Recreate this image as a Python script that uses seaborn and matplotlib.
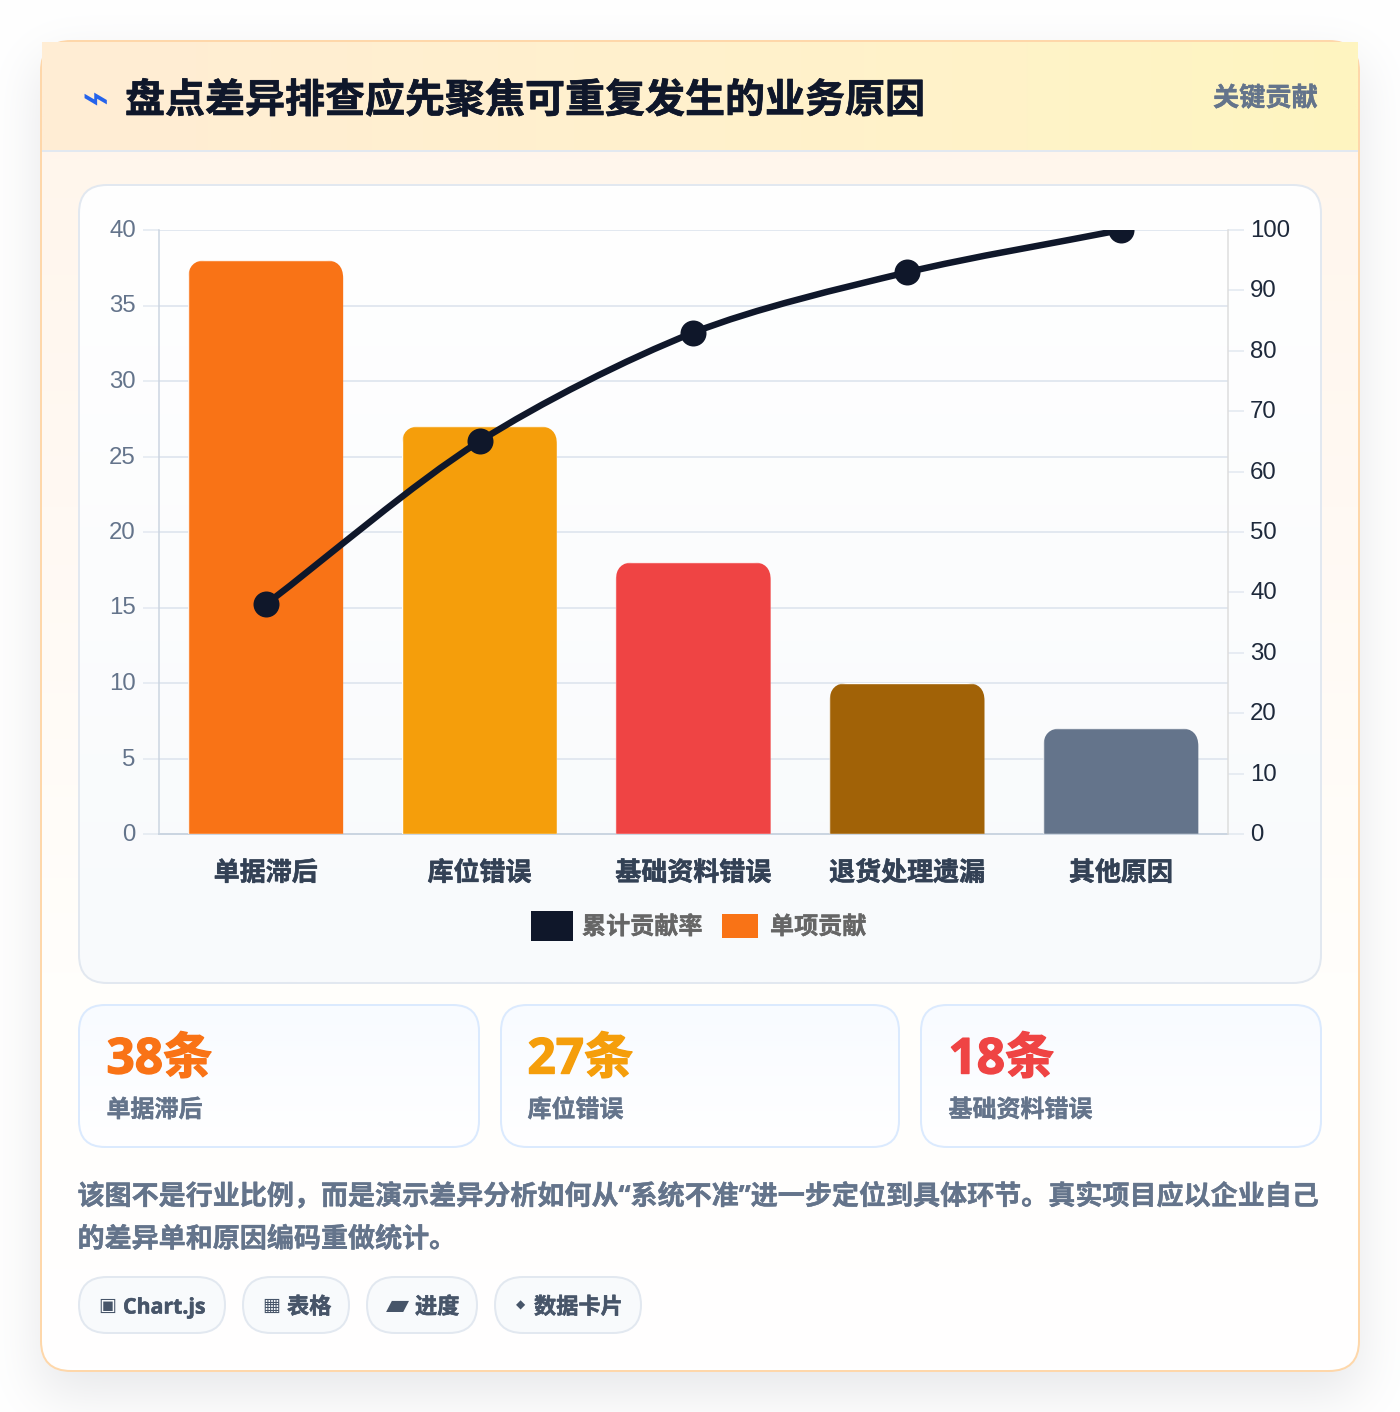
import math
import numpy as np
import pandas as pd
import matplotlib
matplotlib.use("Agg")
import matplotlib.pyplot as plt
import matplotlib.patheffects as pe
import seaborn as sns
from matplotlib.patches import FancyBboxPatch, Rectangle, PathPatch
from matplotlib.path import Path
from matplotlib.transforms import IdentityTransform, ScaledTranslation
from matplotlib.colors import to_rgb

categories = ["单据滞后", "库位错误", "基础资料错误", "退货处理遗漏", "其他原因"]
single_values = [38, 27, 18, 10, 7]
cumulative_values = [38, 65, 83, 93, 100]
bar_colors = ["#f97316", "#f59e0b", "#ef4444", "#a16207", "#64748b"]
left_ticks = [0, 5, 10, 15, 20, 25, 30, 35, 40]
right_ticks = [0, 10, 20, 30, 40, 50, 60, 70, 80, 90, 100]
title = "盘点差异排查应先聚焦可重复发生的业务原因"
badge = "关键贡献"
legend_labels = ["累计贡献率", "单项贡献"]
stat_values = ["38条", "27条", "18条"]
stat_labels = ["单据滞后", "库位错误", "基础资料错误"]
stat_colors = ["#f97316", "#f59e0b", "#ef4444"]
note_lines = ["该图不是行业比例，而是演示差异分析如何从“系统不准”进一步定位到具体环节。真实项目应以企业自己",
              "的差异单和原因编码重做统计。"]
pill_icons = ["▣", "▦", "▰", "◆"]
pill_labels = ["Chart.js", "表格", "进度", "数据卡片"]

W, H = 1400, 1412
sns.set_theme(style="white")
CJK = ["Open Sans", "Noto Sans CJK SC", "DejaVu Sans"]
plt.rcParams["font.family"] = ["Noto Sans CJK SC", "DejaVu Sans"]
fig = plt.figure(figsize=(W / 100, H / 100), dpi=100, facecolor="white")
bg = fig.add_axes([0, 0, 1, 1], zorder=0)
bg.set_xlim(0, W); bg.set_ylim(H, 0); bg.axis("off")
px = lambda p: p * 0.72


def heavy(t, c, w=0.6):
    t.set_path_effects([pe.withStroke(linewidth=w, foreground=c)])
    return t


def rbox(x0, y0, x1, y1, r, **kw):
    p = FancyBboxPatch((x0 + r, y0 + r), x1 - x0 - 2 * r, y1 - y0 - 2 * r,
                       boxstyle=f"round,pad={r},rounding_size={r}", mutation_aspect=1, **kw)
    bg.add_patch(p)
    return p


def grad(x0, y0, x1, y1, stops, horizontal=False, clip=None, z=1):
    n = 256
    t = np.linspace(0, 1, n)
    pos = [s[0] for s in stops]
    cols = np.array([to_rgb(s[1]) for s in stops])
    arr = np.stack([np.interp(t, pos, cols[:, i]) for i in range(3)], axis=-1)
    arr = arr[None, :, :] if horizontal else arr[:, None, :]
    im = bg.imshow(arr, extent=(x0, x1, y1, y0), aspect="auto", zorder=z, interpolation="bilinear")
    if clip is not None:
        im.set_clip_path(clip)
    return im


def gradbox(x0, y0, x1, y1, r, stops, edge, lw=2, z=1):
    clip = rbox(x0, y0, x1, y1, r, fc="none", ec="none", zorder=z)
    grad(x0, y0, x1, y1, stops, clip=clip, z=z)
    rbox(x0, y0, x1, y1, r, fc="none", ec=edge, lw=lw * 0.72, zorder=z + 0.1)


# soft page shadow around the card
erf = np.vectorize(math.erf)
xs = np.arange(W) + 0.5
ys = np.arange(H) + 0.5
sig = 27
sx = 0.5 * (erf((xs - 41) / (sig * 2 ** .5)) - erf((xs - 1359) / (sig * 2 ** .5)))
sy = 0.5 * (erf((ys - 62) / (sig * 2 ** .5)) - erf((ys - 1392) / (sig * 2 ** .5)))
alpha = 0.105 * np.outer(sy, sx)
shadow = np.ones((H, W, 3)) * (1 - alpha[..., None]) + np.array(to_rgb("#0f172a")) * alpha[..., None]
bg.imshow(shadow, extent=(0, W, H, 0), aspect="auto", zorder=0, interpolation="nearest")
bg.set_xlim(0, W); bg.set_ylim(H, 0)

# card
gradbox(41, 41, 1359, 1371, 30, [(0, "#fff5ea"), (0.35, "#fff9f3"), (0.7, "#fffefb"), (1, "#ffffff")], "#fed7aa", lw=2)
# header (square corners poke past the card)
grad(42, 42, 1358, 150, [(0, "#ffedd5"), (0.75, "#fff3c8"), (1, "#fef5c0")], horizontal=True, z=2)
bg.add_patch(Rectangle((42, 150), 1316, 2, fc="#e2e8f0", ec="none", zorder=2.1))
bg.text(95, 100, "⌁", color="#2563eb", fontsize=px(46), ha="center", va="center", family="DejaVu Sans", zorder=3)
heavy(bg.text(125, 101, title, color="#0f172a", fontsize=px(40), weight="bold", ha="left", va="center", zorder=3), "#0f172a", 0.5)
heavy(bg.text(1318, 98.5, badge, color="#64748b", fontsize=px(26.2), weight="bold", ha="right", va="center", zorder=3), "#64748b", 0.3)

# chart panel
gradbox(79, 185, 1321, 983, 28, [(0, "#ffffff"), (1, "#f8fafc")], "#e2e8f0")

# legend
bg.add_patch(Rectangle((531, 911), 42, 30, fc="#0f172a", ec="none", zorder=3))
heavy(bg.text(582, 927, legend_labels[0], color="#666666", fontsize=px(24.1), weight="bold", ha="left", va="center", zorder=3), "#666666", 0.3)
bg.add_patch(Rectangle((722, 914), 36, 24, fc="#f97316", ec="none", zorder=3))
heavy(bg.text(770, 927, legend_labels[1], color="#666666", fontsize=px(24.1), weight="bold", ha="left", va="center", zorder=3), "#666666", 0.3)

# stat cards
stat_x = [(79, 479), (501, 899), (921, 1321)]
stat_tx = [106.5, 527.5, 948.5]
for (x0, x1), tx, v, l, c in zip(stat_x, stat_tx, stat_values, stat_labels, stat_colors):
    gradbox(x0, 1005, x1, 1147, 26, [(0, "#f8fbff"), (1, "#ffffff")], "#dbeafe")
    heavy(bg.text(tx, 1061, v, color=c, fontsize=px(49.5), weight="bold", ha="left", va="center", family=CJK, zorder=3), c, 1.0)
    heavy(bg.text(tx, 1110, l, color="#64748b", fontsize=px(24), weight="bold", ha="left", va="center", zorder=3), "#64748b", 0.3)

# note
heavy(bg.text(77.5, 1197, note_lines[0], color="#64748b", fontsize=px(27.05), weight="bold", ha="left", va="center", family=CJK, zorder=3), "#64748b", 0.3)
heavy(bg.text(77.5, 1240, note_lines[1], color="#64748b", fontsize=px(27.05), weight="bold", ha="left", va="center", family=CJK, zorder=3), "#64748b", 0.3)

# pills
pill_x = [(79, 225, 98.5, 123), (243, 349, 262, 287), (367, 477, 386, 415), (495, 641, 516, 534)]
icon_px = [19, 19, 30, 12]
label_px = [21.3, 22.2, 22.2, 22.2]
for (x0, x1, ix, tx), ic, sz, lb, ls in zip(pill_x, pill_icons, icon_px, pill_labels, label_px):
    rbox(x0, 1277, x1, 1333, 28, fc="#f8fafc", ec="#e2e8f0", lw=2 * 0.72, zorder=2)
    bg.text(ix, 1305, ic, color="#475569", fontsize=px(sz), ha="left", va="center", family="DejaVu Sans", zorder=3)
    heavy(bg.text(tx, 1308, lb, color="#475569", fontsize=px(ls), weight="bold", ha="left", va="center", family=CJK, zorder=3), "#475569", 0.4)

# chart axes
L, R, T, B = 158.8, 1227.8, 230, 834
ax = fig.add_axes([L / W, 1 - B / H, (R - L) / W, (B - T) / H], zorder=2)
ax.patch.set_alpha(0)
df = pd.DataFrame({"category": categories, "single": single_values})
sns.barplot(data=df, x="category", y="single", hue="category", palette=bar_colors, width=0.72,
            dodge=False, legend=False, saturation=1, ax=ax, zorder=3)
ax.set_xlim(-0.5, 4.5)
ax.set_ylim(0, 40)
ax.set_xlabel(""); ax.set_ylabel("")
ax.set_yticks(left_ticks)
ax.set_yticklabels([str(v) for v in left_ticks], family="Liberation Sans", fontsize=px(24), color="#64748b")
ax.tick_params(axis="y", length=16 * 0.72, width=1.5 * 0.72, color="#e2e8f0", pad=5, left=True)
ax.tick_params(axis="x", length=0, pad=18.4)
up = ScaledTranslation(0, 1.5 / 100, fig.dpi_scale_trans)
for t in ax.get_yticklabels():
    t.set_transform(t.get_transform() + up)
for t in ax.get_xticklabels():
    t.set_fontsize(px(26)); t.set_fontweight("bold"); t.set_color("#334155")
    heavy(t, "#334155", 0.4)
ax.grid(axis="y", color="#e2e8f0", lw=2 * 0.72, zorder=0)
ax.grid(axis="x", visible=False)
ax.set_axisbelow(True)
for s in ["top", "right"]:
    ax.spines[s].set_visible(False)
ax.spines["left"].set_color("#cbd5e1"); ax.spines["left"].set_linewidth(1.5 * 0.72)
ax.spines["bottom"].set_color("#cbd5e1"); ax.spines["bottom"].set_linewidth(2 * 0.72)

# rounded top corners on the bars
fig.canvas.draw()
rad = 18
for bar in ax.patches:
    (x0, y0), (x1, y1) = ax.transData.transform([(bar.get_x(), 0), (bar.get_x() + bar.get_width(), bar.get_height())])
    y0 -= 5
    x0 -= 0.5; x1 += 0.5
    bar.set_x(bar.get_x() - 0.004); bar.set_width(bar.get_width() + 0.008)
    verts = [(x0, y0), (x0, y1 - rad), (x0, y1), (x0 + rad, y1), (x1 - rad, y1), (x1, y1), (x1, y1 - rad), (x1, y0), (x0, y0)]
    codes = [Path.MOVETO, Path.LINETO, Path.CURVE3, Path.CURVE3, Path.LINETO, Path.CURVE3, Path.CURVE3, Path.LINETO, Path.CLOSEPOLY]
    bar.set_clip_path(Path(verts, codes), IdentityTransform())

# right axis
ax2 = ax.twinx()
ax2.set_zorder(4)
ax2.patch.set_alpha(0)
ax2.set_ylim(0, 100)
ax2.set_yticks(right_ticks)
ax2.set_yticklabels([str(v) for v in right_ticks], family="Liberation Sans", fontsize=px(24), color="#1e293b")
ax2.tick_params(axis="y", length=16 * 0.72, width=1.5 * 0.72, color="#e2e8f0", pad=4.5, right=True)
for t in ax2.get_yticklabels():
    t.set_transform(t.get_transform() + up)
ax2.grid(False)
for s in ["top", "left", "bottom"]:
    ax2.spines[s].set_visible(False)
ax2.spines["right"].set_color("#dddddd"); ax2.spines["right"].set_linewidth(1.5 * 0.72)

# smooth cumulative line (Chart.js-style spline through the values)
xv = np.arange(len(cumulative_values), dtype=float)
pts = ax2.transData.transform(np.column_stack([xv, cumulative_values]))
tension = 0.3
verts = [tuple(pts[0])]
codes = [Path.MOVETO]
cps = []
for i in range(len(pts)):
    p0 = pts[max(i - 1, 0)]; p1 = pts[i]; p2 = pts[min(i + 1, len(pts) - 1)]
    d01 = np.hypot(*(p1 - p0)); d12 = np.hypot(*(p2 - p1))
    s = d01 + d12
    cps.append((p1 - tension * d01 / s * (p2 - p0), p1 + tension * d12 / s * (p2 - p0)))
for i in range(len(pts) - 1):
    verts += [tuple(cps[i][1]), tuple(cps[i + 1][0]), tuple(pts[i + 1])]
    codes += [Path.CURVE4] * 3
data_verts = ax2.transData.inverted().transform(verts)
ax2.add_patch(PathPatch(Path(data_verts, codes), fc="none", ec="#0f172a", lw=6.5 * 0.72, zorder=5, capstyle="round"))
sns.scatterplot(x=xv, y=cumulative_values, s=(26 * 0.72) ** 2, color="#0f172a", edgecolor="#0f172a",
                linewidth=0, legend=False, ax=ax2, zorder=6)
ax2.set_xlim(-0.5, 4.5); ax2.set_ylim(0, 100)
ax2.set_ylabel("")

fig.savefig("out.png", dpi=100, facecolor="white")
